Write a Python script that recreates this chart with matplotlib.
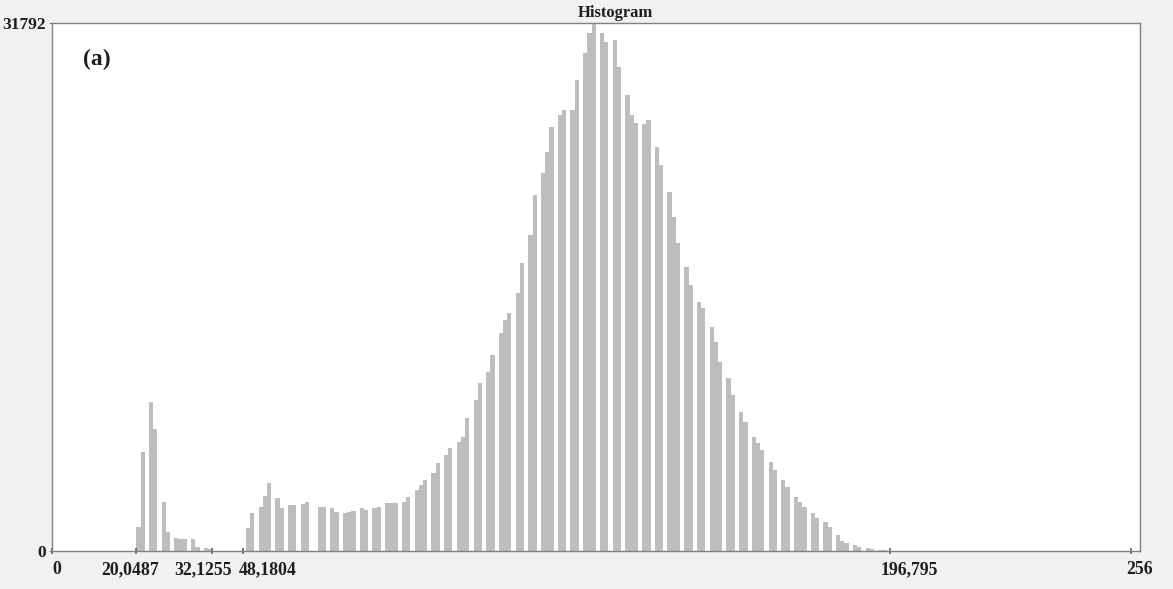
import numpy as np
import matplotlib
matplotlib.use("Agg")
import matplotlib.pyplot as plt

# ---- data ----
low_bins = [20, 21, 23, 24, 26, 27, 29, 30, 31, 33, 34, 36, 37]
low_counts = [1450, 5960, 8970, 7350, 2950, 1150, 800, 700, 700, 720, 250, 200, 100]

rise_bins = [46, 47, 49, 50, 51, 53, 54, 56, 57, 59, 60, 63, 64, 66, 67, 69, 70, 71,
             73, 74, 76, 77, 79, 80, 81, 83, 84, 86, 87, 88, 90, 91, 93, 94, 96, 97, 98]
rise_counts = [1380, 2290, 2650, 3300, 4090, 3190, 2600, 2770, 2770, 2800, 2950, 2650, 2650,
               2590, 2350, 2290, 2350, 2400, 2590, 2470, 2590, 2650, 2890, 2890, 2890,
               2950, 3250, 3670, 3970, 4270, 4690, 5300, 5780, 6200, 6560, 6860, 8000]

peak_bins = [100, 101, 103, 104, 106, 107, 108, 110, 111, 113, 114, 116, 117, 118,
             120, 121, 123, 124, 126, 127, 128, 130, 131, 133, 134, 136, 137, 138,
             140, 141, 143, 144, 146, 147, 148]
peak_counts = [9090, 10110, 10780, 11800, 13120, 13900, 14330, 15530, 17340, 19020, 21430,
               22760, 24020, 25520, 26250, 26550, 26550, 28350, 29980, 31180, 31792,
               31180, 30640, 30760, 29140, 27450, 26250, 25800, 25700, 25950, 24320,
               23240, 21610, 20110, 18540]

tail_bins = [150, 151, 153, 154, 156, 157, 158, 160, 161, 163, 164, 166, 167, 168,
             170, 171, 173, 174, 176, 177, 178, 180, 181, 183, 184, 186, 187, 188,
             190, 191, 193, 194, 196, 197]
tail_counts = [17100, 16010, 14990, 14630, 13480, 12580, 11380, 10410, 9390, 8370, 7770,
               6860, 6500, 6080, 5360, 4880, 4270, 3850, 3250, 2950, 2650, 2290, 1990,
               1750, 1450, 960, 600, 480, 360, 240, 180, 120, 60, 60]

n_bins = 256
y_max = 31792
y_tick_values = [0, 31792]
y_tick_labels = ["0", "31792"]
x_tick_marks = [0, 20.0, 37.9, 45.4, 198.8, 256]
x_label_pos = [1.2, 18.6, 35.8, 51.1, 203.5, 258.1]
x_tick_labels = ["0", "20,0487", "32,1255", "48,1804", "196,795", "256"]
title = "Histogram"
panel_label = "(a)"

# ---- build histogram table ----
counts = np.zeros(n_bins)
for b, c in zip(low_bins + rise_bins + peak_bins + tail_bins,
                low_counts + rise_counts + peak_counts + tail_counts):
    counts[b] = c
levels = np.arange(n_bins)

# ---- figure ----
W, H = 1173, 589
fig = plt.figure(figsize=(W / 100, H / 100), dpi=100, facecolor="#f1f1f1")
ax = fig.add_axes([52 / W, (H - 551) / H, 1088 / W, 528 / H])
ax.set_facecolor("white")

serif = ["Liberation Serif", "DejaVu Serif"]
txt_col = "#1e1e1e"

ax.bar(levels, counts, width=1.0, align="edge", color="#bdbdbd", linewidth=0)

ax.set_xlim(0, n_bins)
ax.set_ylim(0, y_max)

for s in ax.spines.values():
    s.set_color("#808080")
    s.set_linewidth(1.0)

ax.set_yticks(y_tick_values)
ax.set_yticklabels(y_tick_labels, fontfamily=serif, fontweight="bold",
                   fontsize=12.5, color=txt_col)
ax.tick_params(axis="y", length=2, pad=2.5, color="#808080")

ax.set_xticks(x_label_pos)
ax.set_xticklabels(x_tick_labels, fontfamily=serif, fontweight="bold",
                   fontsize=12.8, color=txt_col)
ax.tick_params(axis="x", which="major", length=0, pad=7.5)
ax.set_xticks(x_tick_marks, minor=True)
ax.tick_params(axis="x", which="minor", length=4, width=1.2,
               direction="inout", color="#606060")

fig.text(615 / W, 1 - 17 / H, title, ha="center", va="baseline",
         fontfamily=serif, fontweight="bold", fontsize=12, color=txt_col)
ax.text(10.6, 0.92, panel_label, transform=ax.get_xaxis_transform(),
        ha="center", va="baseline", fontfamily=serif, fontweight="bold",
        fontsize=17, color=txt_col)

fig.savefig("out.png", dpi=100, facecolor=fig.get_facecolor())
